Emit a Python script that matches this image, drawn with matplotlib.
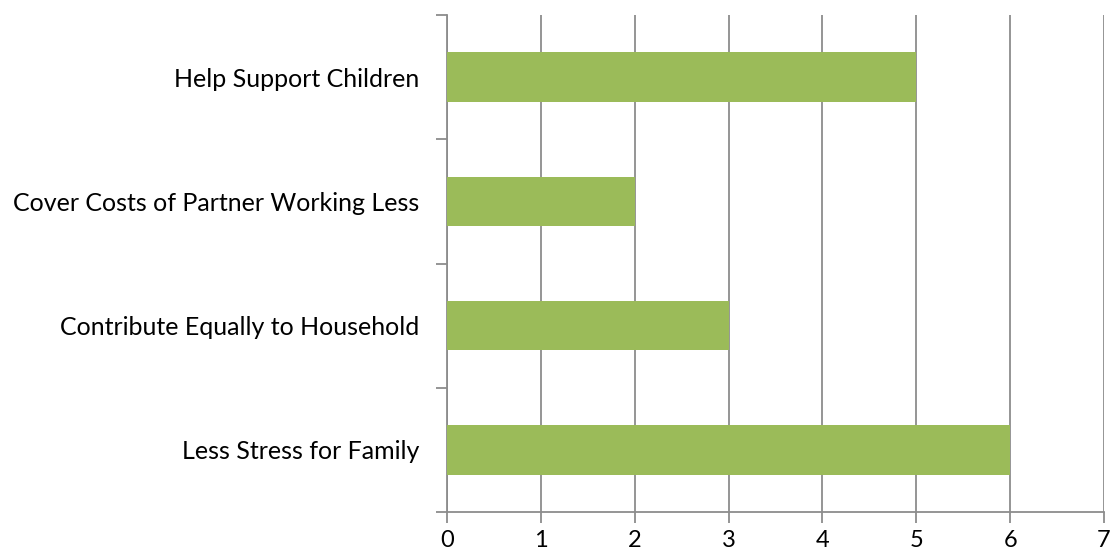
import matplotlib
matplotlib.use("Agg")
import matplotlib.pyplot as plt
import numpy as np

categories = ["Less Stress for Family", "Contribute Equally to Household",
              "Cover Costs of Partner Working Less", "Help Support Children"]
values = [6, 3, 2, 5]

plt.rcParams['font.family'] = ['Lato', 'DejaVu Sans']

fig = plt.figure(figsize=(11.1, 5.56), dpi=100)
ax = fig.add_axes([0.4027, 0.0791, 0.5919, 0.8939])

pos = np.arange(len(categories))
ax.barh(pos, values, height=0.4, color='#9BBB59', zorder=3)

grey = '#8c8c8c'
ax.set_xlim(0, 7)
ax.set_ylim(-0.5, len(categories) - 0.5)
ax.set_xticks(range(0, 8))
ax.xaxis.grid(True, color=grey, linewidth=1.3, zorder=0)

# category labels centered, tick marks on the band edges
ax.set_yticks(pos)
ax.set_yticklabels(categories)
ax.set_yticks(np.arange(-0.5, len(categories)), minor=True)
ax.tick_params(axis='y', which='major', length=0, pad=20, labelsize=18)
ax.tick_params(axis='y', which='minor', length=8, width=1.3, color=grey)
ax.tick_params(axis='x', length=8, width=1.3, color=grey, labelsize=17, pad=5)

for side in ['top', 'right']:
    ax.spines[side].set_visible(False)
for side in ['left', 'bottom']:
    ax.spines[side].set_color(grey)
    ax.spines[side].set_linewidth(1.3)

fig.savefig("out.png", dpi=100)
